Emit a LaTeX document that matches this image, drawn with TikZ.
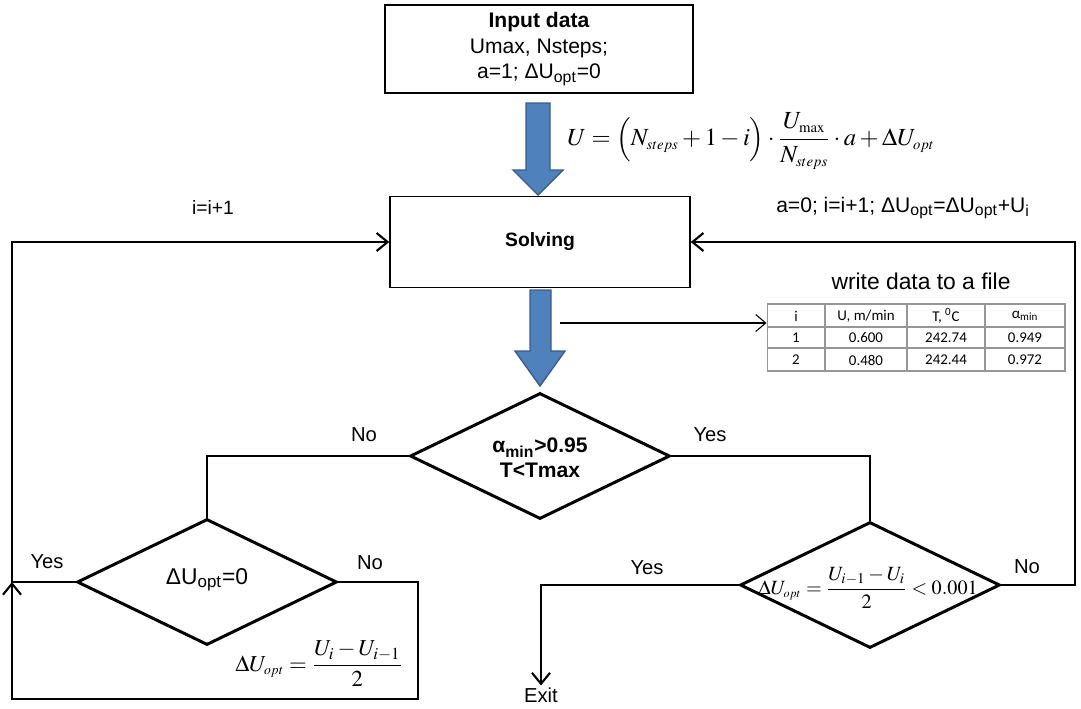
\documentclass[tikz,border=0pt]{standalone}
\usepackage{amsmath}
\usepackage{mathptmx}
\usepackage{fontspec}
\setmainfont{Liberation Sans}
\newfontfamily\calibri{Carlito}
\usetikzlibrary{shapes.geometric,arrows.meta}
\definecolor{arrowblue}{RGB}{79,129,189}
\definecolor{arrowedge}{RGB}{56,93,138}
\definecolor{tabline}{RGB}{150,150,150}
\newcommand{\sss}[1]{{\scriptscriptstyle #1}}
\begin{document}
\begin{tikzpicture}[x=0.02cm,y=-0.02cm,
  box/.style={draw,line width=0.9pt,minimum width=6.16cm,minimum height=1.76cm,align=center,font=\fontsize{12}{14.5}\selectfont},
  dec/.style={diamond,draw,line width=1.7pt,minimum width=5.2cm,minimum height=2.52cm,inner sep=0pt},
  flow/.style={line width=1.2pt},
  arr/.style={flow,-{Straight Barb[length=2.2mm,width=3.6mm,line width=1.2pt]}},
  thinarr/.style={line width=0.6pt,-{Straight Barb[length=2mm,width=3.4mm,line width=0.6pt]}},
  lbl/.style={font=\fontsize{11.5}{13}\selectfont,inner sep=1pt},
  tabtxt/.style={font=\calibri\fontsize{8.5}{10}\selectfont,inner sep=0pt},
  bluearrow/.style={fill=arrowblue,draw=arrowedge,line width=0.8pt}
]
\useasboundingbox (0,0) rectangle (1081,708);

% boxes
\node[box] (input) at (539,49) {\textbf{Input data}\\Umax, Nsteps;\\a=1; ΔU\textsubscript{opt}=0};
\node[box,minimum width=6cm,minimum height=1.82cm,font=\fontsize{11}{13}\selectfont\bfseries] (solve) at (540,242) {Solving};

% blue arrows
\draw[bluearrow] (526,103) -- (550,103) -- (550,170) -- (563,170) -- (538,195) -- (513,170) -- (526,170) -- cycle;
\draw[bluearrow] (530,290) -- (551,290) -- (551,351) -- (565,351) -- (540,386) -- (515,351) -- (530,351) -- cycle;

% formula top
\node (f1) at (751,141) {\fontsize{14}{18}\selectfont $U=\Bigl(N_{\sss{steps}}+1-i\Bigr)\cdot\dfrac{U_{\sss{\max}}}{N_{\sss{steps}}}\cdot a+\Delta U_{\sss{opt}}$};

% side labels
\node[lbl,font=\fontsize{11}{13}\selectfont] (inc) at (213,207) {i=i+1};
\node[lbl,font=\fontsize{12}{14}\selectfont] (upd) at (903,208) {a=0; i=i+1; ΔU\textsubscript{opt}=ΔU\textsubscript{opt}+U\textsubscript{i}};

% table
\node[font=\fontsize{13}{15}\selectfont] (wr) at (921,281) {write data to a file};
\node[draw=tabline,line width=0.6pt,minimum width=5.96cm,minimum height=1.34cm,inner sep=0pt] (tab) at (916,337.5) {};
\draw[tabline,line width=0.6pt] (767,327) -- (1065,327) (767,348) -- (1065,348)
  (825,304) -- (825,371) (907,304) -- (907,371) (985,304) -- (985,371);
\node[tabtxt] (h1) at (796,316) {i};
\node[tabtxt] (h2) at (866,316) {U, m/min};
\node[tabtxt] (h3) at (946,316) {T, \textsuperscript{0}C};
\node[tabtxt] (h4) at (1025,316) {α\textsubscript{min}};
\node[tabtxt] (a1) at (796,338) {1};
\node[tabtxt] (a2) at (866,338) {0.600};
\node[tabtxt] (a3) at (946,338) {242.74};
\node[tabtxt] (a4) at (1025,338) {0.949};
\node[tabtxt] (b1) at (796,360) {2};
\node[tabtxt] (b2) at (866,360) {0.480};
\node[tabtxt] (b3) at (946,360) {242.44};
\node[tabtxt] (b4) at (1025,360) {0.972};
\coordinate (t0) at (560,323);
\draw[thinarr] (t0) -- (t0 -| tab.west);

% decisions
\node[dec] (d1) at (540,456) {};
\node[font=\fontsize{12}{14}\selectfont\bfseries,align=center] (d1t) at (540,458) {α\textsubscript{min}>0.95\\T<Tmax};
\node[dec] (d2) at (207,582) {};
\node[font=\fontsize{13}{15}\selectfont] (d2t) at (207,580) {ΔU\textsubscript{opt}=0};
\node[dec] (d3) at (870,585) {};
\node[inner sep=0pt] (d3t) at (868,588) {\fontsize{11.5}{14}\selectfont $\Delta U_{\sss{opt}}=\dfrac{U_{i-1}-U_{i}}{2}<0.001$};

\node (f2) at (319,664) {\fontsize{13}{16}\selectfont $\Delta U_{\sss{opt}}=\dfrac{U_{i}-U_{i-1}}{2}$};

% coordinates
\coordinate (L) at (12,582);
\coordinate (BL) at (12,699);
\coordinate (BR) at (418,699);
\coordinate (RR) at (1075,585);
\node[lbl] (exit) at (541,695) {Exit};

% connectors
\draw[flow] (d1.west) -| (d2.north);
\draw[flow] (d1.east) -| (d3.north);
\draw[arr] (d2.west) -- (L) |- (solve.west);
\draw[arr] (d2.east) -| (BR) -- (BL) -- (L);
\draw[arr] (d3.east) -- (RR) |- (solve.east);
\draw[arr] (d3.west) -| (exit.north);

% branch labels
\node[lbl] (n1) at (364,435) {No};
\node[lbl] (y1) at (710,435) {Yes};
\node[lbl] (y2) at (47,562) {Yes};
\node[lbl] (n2) at (370,563) {No};
\node[lbl] (y3) at (647,568) {Yes};
\node[lbl] (n3) at (1027,567) {No};
\end{tikzpicture}
\end{document}
